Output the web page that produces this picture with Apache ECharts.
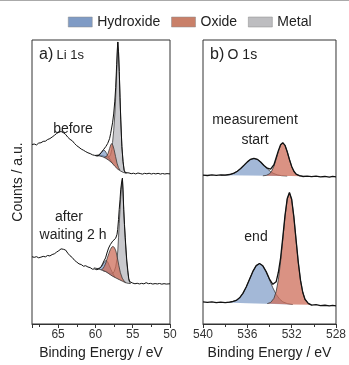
<!DOCTYPE html>
<html><head><meta charset="utf-8">
<script src="https://cdn.jsdelivr.net/npm/echarts@6/dist/echarts.min.js"></script>
<style>html,body{margin:0;padding:0;background:#fff}#c{width:349px;height:365px}</style>
</head><body><div id="c"></div>
<script>
// ---- categories / ticks ----
const categories = ['Hydroxide', 'Oxide', 'Metal'];
const liTickLabels = [50, 55, 60, 65];
const oTickLabels = [528, 532, 536, 540];

// ---- Li 1s, "before" (binding energy eV, counts a.u.) ----
const liBeforeData = [[68.5,182],[68.2,182.5],[67.9,181.6],[67.6,183.5],[67.3,183.8],[67.0,185.2],[66.7,185.4],[66.4,187.1],[66.1,188.0],[65.8,189.6],[65.5,191.3],[65.2,193.2],[64.9,194.5],[64.6,195.2],[64.3,194.0],[64.0,192.3],[63.7,189.4],[63.4,187.2],[63.1,185.8],[62.8,183.1],[62.5,180.8],[62.2,179.2],[61.9,177.4],[61.6,176.2],[61.3,174.8],[61.0,173.6],[60.7,172.8],[60.4,171.6],[60.1,171.0],[59.8,170.4],[59.5,171.2],[59.2,174.0],[58.9,177.0],[58.6,180.0],[58.36,183.0],[58.1,188.0],[57.96,193.0],[57.7,204.0],[57.55,213.0],[57.4,226.0],[57.28,240.0],[57.15,263.0],[57.05,280.0],[57.0,286.0],[56.9,276.0],[56.8,256.0],[56.7,230.0],[56.6,207.0],[56.45,180.0],[56.3,165.0],[56.15,156.0],[56.0,153.5],[55.8,152.5],[55.5,153.2],[55.2,152.4],[54.9,152.9],[54.6,152.2],[54.3,153.1],[54.0,152.6],[53.7,152.0],[53.4,152.8],[53.1,152.3],[52.8,152.9],[52.5,152.1],[52.2,152.7],[51.9,152.2],[51.6,152.8],[51.3,152.0],[51.0,152.6],[50.7,152.1],[50.4,152.5],[50.0,152.2]];
const liBeforeBg = [[60.0,171],[59.5,170.5],[59.0,169.5],[58.6,168],[58.2,166],[57.8,163.5],[57.4,160],[57.0,157],[56.6,155],[56.2,153.5],[55.8,153]];
const liBeforeHydroxide = [[60.0,171],[59.6,171.5],[59.3,173],[59.1,175],[58.9,176.5],[58.7,175.5],[58.5,173],[58.3,170],[58.0,166.5],[57.7,163]];
const liBeforeOxide = [[58.8,169],[58.5,170],[58.3,173],[58.1,178],[57.95,181.5],[57.82,183],[57.65,181],[57.5,177],[57.3,170],[57.1,163],[56.9,158.5],[56.7,156]];
const liBeforeMetal = [[59.8,170.5],[59.3,171],[58.9,170.5],[58.6,169.5],[58.36,169],[58.1,170],[57.96,172],[57.8,177],[57.7,184],[57.55,196],[57.4,212],[57.28,230],[57.15,256],[57.05,277],[57.0,286],[56.9,276],[56.8,256],[56.7,230],[56.6,207],[56.45,180],[56.3,165],[56.15,156],[56.0,153.5],[55.9,153]];

// ---- Li 1s, "after waiting 2 h" ----
const liAfterData = [[68.5,68.2],[68.2,67.6],[67.9,68.3],[67.6,67.1],[67.3,67.8],[67.0,68.6],[66.7,68.1],[66.4,69.5],[66.1,69.0],[65.8,70.4],[65.5,71.2],[65.2,72.9],[64.9,74.4],[64.6,76.2],[64.45,77.3],[64.3,75.8],[64.0,75.0],[63.7,71.8],[63.4,69.2],[63.1,67.4],[62.8,64.6],[62.5,62.8],[62.2,61.0],[61.9,60.3],[61.6,58.6],[61.3,59.1],[61.0,57.8],[60.7,57.2],[60.4,55.6],[60.1,55.9],[59.8,55.0],[59.5,56.2],[59.2,58.4],[59.04,61],[58.85,64],[58.64,67],[58.45,72],[58.23,77],[58.0,80.5],[57.69,84],[57.45,85.5],[57.28,87],[57.1,91],[57.01,96],[56.9,106],[56.81,116],[56.7,126],[56.61,136],[56.5,143],[56.38,148],[56.3,136],[56.2,116],[56.1,101],[56.0,88],[55.9,76],[55.8,65],[55.65,54],[55.53,46],[55.4,43],[55.26,41.2],[55.0,41.5],[54.7,40.8],[54.4,41.3],[54.1,40.6],[53.8,41.2],[53.5,40.7],[53.2,41.9],[52.9,40.9],[52.6,41.2],[52.3,40.5],[52.0,41.0],[51.7,40.6],[51.4,41.1],[51.1,40.4],[50.8,40.9],[50.5,40.5],[50.0,40.8]];
const liAfterBg = [[60.2,57],[59.8,56.3],[59.4,55.3],[59.0,54.3],[58.6,53],[58.2,51],[57.7,48.5],[57.2,46.5],[56.8,45],[56.4,43.5],[56.0,42],[55.6,41.2],[55.3,41]];
const liAfterHydroxide = [[59.9,56.1],[59.5,56.5],[59.2,58],[59.0,60.5],[58.8,63],[58.57,64.5],[58.35,63],[58.15,59.5],[57.9,55],[57.65,51],[57.4,47.5]];
const liAfterOxide = [[59.2,55],[59.0,56],[58.8,58.5],[58.6,62],[58.4,67],[58.2,71.5],[58.0,75.5],[57.8,78],[57.65,78.7],[57.45,77.5],[57.25,74],[57.05,67],[56.85,59],[56.65,52],[56.4,46.5],[56.1,43],[55.9,42]];
const liAfterMetal = [[59.0,54],[58.6,53.5],[58.0,51.5],[57.7,51],[57.5,53],[57.28,58],[57.1,66],[57.0,74],[56.9,88],[56.8,102],[56.7,116],[56.6,129],[56.5,140],[56.38,147],[56.3,135],[56.2,114],[56.1,99],[56.0,86],[55.9,74],[55.8,63],[55.65,52],[55.5,44],[55.3,41]];

// ---- O 1s, "measurement start" ----
const oStartData = [[540.0,151.0],[539.6,150.6],[539.2,151.3],[538.8,150.7],[538.4,151.2],[538.0,151.0],[537.6,151.6],[537.2,153.0],[536.9,154.9],[536.6,157.7],[536.3,161.0],[536.0,164.4],[535.7,167.0],[535.4,168.0],[535.1,167.0],[534.8,164.3],[534.5,160.8],[534.2,158.0],[533.9,157.0],[533.6,161.5],[533.4,168.6],[533.2,175.8],[533.0,181.7],[532.8,183.9],[532.6,181.2],[532.4,174.7],[532.2,166.8],[532.0,159.8],[531.8,154.9],[531.6,152.0],[531.3,150.5],[531.0,149.6],[530.6,150.0],[530.2,149.4],[529.8,149.9],[529.4,149.2],[529.0,149.6],[528.6,149.0],[528.3,149.7],[528.0,149.3]];
const oStartBg = [[540.0,151.0],[536.0,150.5],[532.0,150.0],[528.0,149.5]];
const oStartHydroxide = [[538.4,150.8],[537.9,151.1],[537.5,151.8],[537.2,153.0],[536.9,154.9],[536.6,157.7],[536.3,161.0],[536.0,164.4],[535.7,167.0],[535.4,167.9],[535.1,166.9],[534.8,164.3],[534.5,160.8],[534.2,157.4],[533.9,154.5],[533.6,152.5],[533.3,151.3],[532.9,150.4],[532.4,150.05]];
const oStartOxide = [[534.6,150.3],[534.3,150.7],[534.0,152.3],[533.8,155.1],[533.6,160.0],[533.4,167.0],[533.2,174.8],[533.0,181.1],[532.8,183.6],[532.6,181.1],[532.4,174.7],[532.2,166.8],[532.0,159.8],[531.8,154.9],[531.6,152.0],[531.3,150.3],[531.0,149.9]];

// ---- O 1s, "end" ----
const oEndData = [[540.0,22.5],[539.6,22.0],[539.2,22.4],[538.8,21.6],[538.4,22.1],[538.0,21.7],[537.6,22.2],[537.3,22.9],[537.0,23.9],[536.7,26.6],[536.4,31.1],[536.1,37.5],[535.8,45.4],[535.5,53.3],[535.2,59.2],[534.9,61.3],[534.6,59.0],[534.3,53.1],[534.0,45.6],[533.7,40.2],[533.4,42.8],[533.2,52.5],[533.0,66.9],[532.8,87.9],[532.6,110.2],[532.4,127.2],[532.2,133.4],[532.0,126.5],[531.8,108.4],[531.6,85.0],[531.4,62.4],[531.2,44.2],[531.0,32.2],[530.8,25.1],[530.5,20.9],[530.2,19.2],[529.8,19.6],[529.4,18.6],[529.0,19.0],[528.6,18.3],[528.3,18.8],[528.0,18.4]];
const oEndBg = [[540.0,22.3],[536.0,21.0],[532.0,19.8],[528.0,18.5]];
const oEndHydroxide = [[537.9,21.8],[537.4,22.3],[537.0,23.9],[536.7,26.6],[536.4,31.1],[536.1,37.5],[535.8,45.4],[535.5,53.3],[535.2,59.2],[534.9,61.3],[534.6,59.0],[534.3,52.9],[534.0,44.8],[533.7,36.7],[533.4,30.1],[533.1,25.4],[532.8,22.5],[532.4,20.7],[531.9,19.8]];
const oEndOxide = [[534.2,20.7],[533.9,21.8],[533.6,26.0],[533.4,32.9],[533.2,44.8],[533.0,62.9],[532.8,85.4],[532.6,108.7],[532.4,126.4],[532.2,133.0],[532.0,126.3],[531.8,108.4],[531.6,85.0],[531.4,62.4],[531.2,44.2],[531.0,32.2],[530.8,25.1],[530.5,20.7],[530.2,19.5]];

// ---- styling ----
const legendColor = {Hydroxide: '#7f9bc5', Oxide: '#c98069', Metal: '#bdbdc0'};
const fillColor = {Hydroxide: 'rgba(120,150,196,0.68)', Oxide: 'rgba(205,110,90,0.75)', Metal: 'rgba(172,172,178,0.65)'};

function bgBetween(bg, comp) {
  const a = comp[0][0], b = comp[comp.length - 1][0];
  const hi = Math.max(a, b), lo = Math.min(a, b);
  return bg.filter(p => p[0] < hi && p[0] > lo);
}

function compSeries(name, idx, comp, bg, z) {
  const base = bgBetween(bg, comp);
  return {
    type: 'custom', name: name, xAxisIndex: idx, yAxisIndex: idx, z: z,
    data: comp, encode: {x: 0, y: 1},
    itemStyle: {color: legendColor[name]},
    silent: true, animation: false,
    renderItem: function (params, api) {
      if (params.dataIndex !== 0) return null;
      const top = comp.map(p => api.coord(p));
      const bot = base.slice().reverse().map(p => api.coord(p));
      return {type: 'group', children: [
        {type: 'polygon', shape: {points: top.concat(bot)}, style: {fill: fillColor[name], stroke: null}},
        {type: 'polyline', shape: {points: top}, style: {fill: null, stroke: '#3a3a3a', lineWidth: 0.8}}
      ]};
    }
  };
}

function lineSeries(idx, data, width, color, z) {
  return {type: 'line', xAxisIndex: idx, yAxisIndex: idx, data: data, showSymbol: false,
    silent: true, animation: false, z: z,
    lineStyle: {color: color, width: width}};
}

const axisLabelStyle = {fontFamily: 'Liberation Sans', fontSize: 12, color: '#333', margin: 5};
const nameStyle = {fontFamily: 'Liberation Sans', fontSize: 14, color: '#222'};

function xAxisCfg(idx, min, max, interval, ticks) {
  return {
    type: 'value', gridIndex: idx, inverse: true, min: min, max: max, interval: interval,
    axisLine: {show: true, lineStyle: {color: '#333', width: 1}},
    axisTick: {show: true, length: 4, lineStyle: {color: '#333'}},
    minorTick: {show: true, splitNumber: 2, length: 3, lineStyle: {color: '#333'}},
    splitLine: {show: false},
    axisLabel: Object.assign({}, axisLabelStyle, {showMaxLabel: ticks.indexOf(max) >= 0,
      formatter: v => (ticks.indexOf(v) >= 0 ? String(v) : '')}),
    name: 'Binding Energy / eV', nameLocation: 'middle', nameGap: 22, nameTextStyle: nameStyle
  };
}

function yAxisCfg(idx, withName) {
  const c = {type: 'value', gridIndex: idx, min: 0, max: 288,
    axisLine: {show: false}, axisTick: {show: false}, axisLabel: {show: false}, splitLine: {show: false}};
  if (withName) {
    c.name = 'Counts / a.u.'; c.nameLocation = 'middle'; c.nameRotate = 90; c.nameGap = 7;
    c.nameTextStyle = nameStyle;
  }
  return c;
}

const txt = (x, y, s, size) => ({type: 'text', x: x, y: y, style: {text: s, fontFamily: 'Liberation Sans',
  fontSize: size || 14, fill: '#222', align: 'center', verticalAlign: 'middle'}});

const chart = echarts.init(document.getElementById('c'), null, {renderer: 'canvas'});
chart.setOption({
  animation: false,
  backgroundColor: '#fff',
  legend: {
    data: categories, left: 68, top: 15, padding: 0, icon: 'rect', itemWidth: 24, itemHeight: 10, itemGap: 11,
    itemStyle: {borderColor: '#8a8a8a', borderWidth: 0.5},
    textStyle: {fontFamily: 'Liberation Sans', fontSize: 14, color: '#222'}, selectedMode: false
  },
  grid: [
    {left: 32, right: 179, top: 40, bottom: 37, show: true, borderColor: '#333', borderWidth: 1, backgroundColor: 'transparent'},
    {left: 203, right: 11, top: 40, bottom: 37, show: true, borderColor: '#333', borderWidth: 1, backgroundColor: 'transparent'}
  ],
  xAxis: [xAxisCfg(0, 50, 68.5, 5, liTickLabels), xAxisCfg(1, 528, 540, 4, oTickLabels)],
  yAxis: [yAxisCfg(0, true), yAxisCfg(1, false)],
  series: [
    compSeries('Metal', 0, liBeforeMetal, liBeforeBg, 2),
    compSeries('Hydroxide', 0, liBeforeHydroxide, liBeforeBg, 3),
    compSeries('Oxide', 0, liBeforeOxide, liBeforeBg, 4),
    lineSeries(0, liBeforeBg, 0.8, '#333', 5),
    lineSeries(0, liBeforeData, 1, '#111', 6),
    compSeries('Metal', 0, liAfterMetal, liAfterBg, 2),
    compSeries('Hydroxide', 0, liAfterHydroxide, liAfterBg, 3),
    compSeries('Oxide', 0, liAfterOxide, liAfterBg, 4),
    lineSeries(0, liAfterBg, 0.8, '#333', 5),
    lineSeries(0, liAfterData, 1, '#111', 6),
    compSeries('Hydroxide', 1, oStartHydroxide, oStartBg, 3),
    compSeries('Oxide', 1, oStartOxide, oStartBg, 4),
    lineSeries(1, oStartData, 1.3, '#111', 6),
    compSeries('Hydroxide', 1, oEndHydroxide, oEndBg, 3),
    compSeries('Oxide', 1, oEndOxide, oEndBg, 4),
    lineSeries(1, oEndData, 1.3, '#111', 6)
  ],
  graphic: [
    {type: 'line', shape: {x1: 0, y1: 0.5, x2: 349, y2: 0.5}, style: {stroke: '#aaa', lineWidth: 1}},
    {type: 'text', x: 39, y: 55, style: {rich: {a: {fontSize: 16, fontFamily: 'Liberation Sans', fill: '#222'}, b: {fontSize: 13, fontFamily: 'Liberation Sans', fill: '#222'}},
      text: '{a|a)} {b|Li 1s}', verticalAlign: 'middle'}},
    {type: 'text', x: 210, y: 55, style: {rich: {a: {fontSize: 16, fontFamily: 'Liberation Sans', fill: '#222'}, b: {fontSize: 14, fontFamily: 'Liberation Sans', fill: '#222'}},
      text: '{a|b)} {b|O 1s}', verticalAlign: 'middle'}},
    txt(73, 129, 'before'),
    txt(69, 217, 'after'),
    txt(73, 235, 'waiting 2 h'),
    txt(255, 120, 'measurement'),
    txt(255, 140, 'start'),
    txt(256, 237, 'end')
  ]
});
</script>
</body></html>
